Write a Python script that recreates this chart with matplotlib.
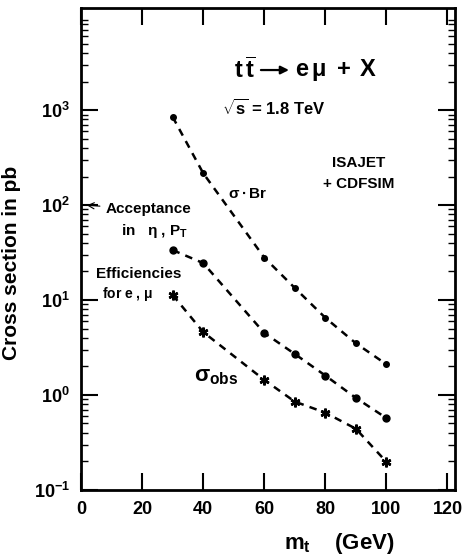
import matplotlib.pyplot as plt
from matplotlib.ticker import LogLocator, NullFormatter, FixedLocator

plt.rcParams['font.family'] = ['Liberation Sans', 'DejaVu Sans']
plt.rcParams['font.weight'] = 'bold'
plt.rcParams['axes.labelweight'] = 'bold'
plt.rcParams['mathtext.fontset'] = 'custom'
plt.rcParams['mathtext.rm'] = 'Liberation Sans:bold'
plt.rcParams['mathtext.it'] = 'Liberation Sans:bold'
plt.rcParams['mathtext.bf'] = 'Liberation Sans:bold'

mt = [30, 40, 60, 70, 80, 90, 100]
sigma_br = [850, 217, 28, 13.4, 6.5, 3.5, 2.1]
sigma_acc = [33.6, 24.5, 4.5, 2.7, 1.6, 0.93, 0.57]
sigma_obs = [11.3, 4.6, 1.44, 0.85, 0.65, 0.44, 0.197]

fig = plt.figure(figsize=(4.63, 5.56), dpi=100)
ax = fig.add_axes([0.175, 0.119, 0.808, 0.867])

ax.plot(mt, sigma_br, 'k--', lw=1.8, dashes=(3, 2.5), marker='o', ms=4)
ax.plot(mt, sigma_acc, 'k--', lw=1.8, dashes=(3, 2.5), marker='o', ms=5)
ax.plot(mt, sigma_obs, 'k--', lw=1.8, dashes=(3, 2.5), marker=(6, 2, 0), ms=7, mew=1.8)

ax.set_yscale('log')
ax.set_xlim(0, 122.5)
ax.set_ylim(0.1, 1.2e4)
ax.xaxis.set_major_locator(FixedLocator([0, 20, 40, 60, 80, 100, 120]))
ax.yaxis.set_major_locator(FixedLocator([0.1, 1, 10, 100, 1000]))
ax.yaxis.set_minor_locator(LogLocator(base=10, subs=range(2, 10)))
ax.yaxis.set_minor_formatter(NullFormatter())
ax.set_yticklabels(['$10^{-1}$', '$10^{0}$', '$10^{1}$', '$10^{2}$', '$10^{3}$'])
ax.tick_params(which='both', direction='in', top=True, right=True, labelsize=13, width=1.5, pad=8)
ax.tick_params(which='major', length=12)
ax.tick_params(which='minor', length=5, width=1)
for s in ax.spines.values():
    s.set_linewidth(2)

ax.set_xlabel('$m_t$    (GeV)', fontsize=16)
ax.xaxis.set_label_coords(0.69, -0.085)
ax.set_ylabel('Cross section in pb', fontsize=15)
ax.yaxis.set_label_coords(-0.16, 0.47)

ax.text(50, 2650, r'$t\,\overline{t}$', fontsize=17, va='center')
ax.annotate('', xy=(69, 2650), xytext=(58, 2650),
            arrowprops=dict(arrowstyle='-|>', lw=1.6, color='k', mutation_scale=12))
ax.text(70, 2650, r'$e\,\mu\;+\;X$', fontsize=17, va='center')
ax.text(46, 1050, r'$\sqrt{s}$ = 1.8 TeV', fontsize=12, va='center')
ax.text(91, 250, 'ISAJET', fontsize=11, ha='center')
ax.text(91, 150, '+ CDFSIM', fontsize=11, ha='center')
ax.text(48, 120, r'$\sigma\bullet$Br', fontsize=11)
ax.annotate('Acceptance', xy=(1, 100), xytext=(8, 82), fontsize=11,
            arrowprops=dict(arrowstyle='->', lw=0.8))
ax.text(13, 48, r'in   $\eta$ , $P_T$', fontsize=11)
ax.text(5, 17, 'Efficiencies', fontsize=11)
ax.text(7, 10.5, r'for $e$ , $\mu$', fontsize=10)
ax.text(37, 1.4, r'$\sigma_{obs}$', fontsize=16)

fig.savefig('out.png', dpi=100)
